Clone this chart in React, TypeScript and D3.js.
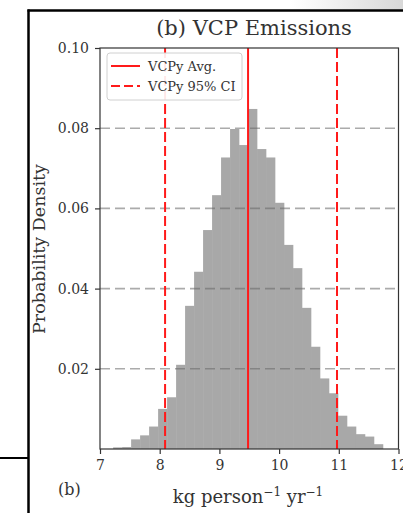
import React, { useRef, useEffect } from "react";
import * as d3 from "d3";

// Histogram of per-capita VCP emissions (probability per bin), 30 bins.
const binRange = [7.22, 11.74];
const binValues = [
  0.0004, 0.0005, 0.0024, 0.0034, 0.0056, 0.01, 0.0129, 0.021, 0.0357, 0.0442,
  0.0546, 0.0633, 0.0727, 0.0798, 0.0758, 0.0848, 0.0748, 0.0727, 0.0614, 0.0509,
  0.0451, 0.0352, 0.0255, 0.0176, 0.0139, 0.0083, 0.0056, 0.0037, 0.0031, 0.0012,
];
const avgValue = 9.48;
const ciValues = [8.09, 10.97];
const xTicks = [7, 8, 9, 10, 11, 12];
const yTicks = [0.02, 0.04, 0.06, 0.08, 0.1];
const legendLabels = ["VCPy Avg.", "VCPy 95% CI"];

const FONT = "DejaVu Serif";

const App = () => {
  const svgRef = useRef(null);

  useEffect(() => {
    const width = 403;
    const height = 513;
    const svg = d3.select(svgRef.current);
    svg.selectAll("*").remove();
    svg.attr("width", width).attr("height", height);

    svg.append("rect").attr("width", width).attr("height", height).attr("fill", "#fff");

    // faint grey shading at top-right of the screenshot
    const defs = svg.append("defs");
    const grad = defs
      .append("linearGradient")
      .attr("id", "topfade")
      .attr("x1", "0")
      .attr("x2", "1");
    grad.append("stop").attr("offset", "0").attr("stop-color", "#fff");
    grad.append("stop").attr("offset", "1").attr("stop-color", "#d8d8d8");
    svg
      .append("rect")
      .attr("x", 290)
      .attr("y", 0)
      .attr("width", 113)
      .attr("height", 10)
      .attr("fill", "url(#topfade)");

    // outer frame lines from the cropped figure
    svg.append("line").attr("x1", 28.5).attr("x2", 28.5).attr("y1", 9.5).attr("y2", height)
      .attr("stroke", "#000").attr("stroke-width", 2.5);
    svg.append("line").attr("x1", 27.5).attr("x2", width).attr("y1", 10.5).attr("y2", 10.5)
      .attr("stroke", "#000").attr("stroke-width", 2.5);
    svg.append("line").attr("x1", 0).attr("x2", 28.5).attr("y1", 458).attr("y2", 458)
      .attr("stroke", "#000").attr("stroke-width", 2);

    const left = 100;
    const right = 398.5;
    const top = 48;
    const bottom = 449;

    const x = d3.scaleLinear().domain([7, 12]).range([left, right]);
    const y = d3.scaleLinear().domain([0, 0.1]).range([bottom, top]);

    const n = binValues.length;
    const bw = (binRange[1] - binRange[0]) / n;
    const bins = binValues.map((v, i) => ({
      x0: binRange[0] + i * bw,
      x1: binRange[0] + (i + 1) * bw,
      v,
    }));

    svg
      .append("g")
      .selectAll("rect")
      .data(bins)
      .join("rect")
      .attr("x", (d) => x(d.x0))
      .attr("width", (d) => x(d.x1) - x(d.x0) + 0.3)
      .attr("y", (d) => y(d.v))
      .attr("height", (d) => y(0) - y(d.v))
      .attr("fill", "#a8a8a8");

    // horizontal dashed grid
    svg
      .append("g")
      .selectAll("line")
      .data(yTicks.filter((t) => t < 0.1))
      .join("line")
      .attr("x1", left)
      .attr("x2", right)
      .attr("y1", (d) => y(d))
      .attr("y2", (d) => y(d))
      .attr("stroke", "#666")
      .attr("stroke-opacity", 0.55)
      .attr("stroke-width", 1.6)
      .attr("stroke-dasharray", "10,5");

    // average and CI lines
    svg
      .append("line")
      .attr("x1", x(avgValue))
      .attr("x2", x(avgValue))
      .attr("y1", top)
      .attr("y2", bottom)
      .attr("stroke", "#ff1a1a")
      .attr("stroke-width", 2);
    svg
      .append("g")
      .selectAll("line")
      .data(ciValues)
      .join("line")
      .attr("x1", (d) => x(d))
      .attr("x2", (d) => x(d))
      .attr("y1", top)
      .attr("y2", bottom)
      .attr("stroke", "#ff1a1a")
      .attr("stroke-width", 2)
      .attr("stroke-dasharray", "10,4");

    // spines
    svg
      .append("rect")
      .attr("x", left)
      .attr("y", top)
      .attr("width", right - left)
      .attr("height", bottom - top)
      .attr("fill", "none")
      .attr("stroke", "#333")
      .attr("stroke-width", 1.2);

    // axes
    const xAxis = svg
      .append("g")
      .attr("transform", `translate(0,${bottom})`)
      .call(d3.axisBottom(x).tickValues(xTicks).tickSize(5).tickPadding(6).tickFormat(d3.format("d")));
    const yAxis = svg
      .append("g")
      .attr("transform", `translate(${left},0)`)
      .call(d3.axisLeft(y).tickValues(yTicks).tickSize(5).tickPadding(6).tickFormat(d3.format(".2f")));
    [xAxis, yAxis].forEach((a) => {
      a.select(".domain").remove();
      a.selectAll("line").attr("stroke", "#333").attr("stroke-width", 1.2);
      a.selectAll("text")
        .attr("font-family", FONT)
        .attr("font-size", 14)
        .attr("fill", "#333");
    });

    // title and labels
    svg
      .append("text")
      .attr("x", 254)
      .attr("y", 35)
      .attr("text-anchor", "middle")
      .attr("font-family", FONT)
      .attr("font-size", 21)
      .attr("fill", "#333")
      .text("(b) VCP Emissions");

    svg
      .append("text")
      .attr("transform", `translate(45,249) rotate(-90)`)
      .attr("text-anchor", "middle")
      .attr("font-family", FONT)
      .attr("font-size", 17.5)
      .attr("fill", "#333")
      .text("Probability Density");

    const xl = svg
      .append("text")
      .attr("x", 248)
      .attr("y", 503)
      .attr("text-anchor", "middle")
      .attr("font-family", FONT)
      .attr("font-size", 18)
      .attr("fill", "#333");
    xl.append("tspan").text("kg person");
    xl.append("tspan").attr("dy", -7).attr("font-size", 12).text("\u22121");
    xl.append("tspan").attr("dy", 7).text(" yr");
    xl.append("tspan").attr("dy", -7).attr("font-size", 12).text("\u22121");

    svg
      .append("text")
      .attr("x", 58)
      .attr("y", 495)
      .attr("font-family", FONT)
      .attr("font-size", 16)
      .attr("fill", "#333")
      .text("(b)");

    // legend
    const legend = svg.append("g").attr("transform", "translate(107,53)");
    legend
      .append("rect")
      .attr("width", 135)
      .attr("height", 47)
      .attr("rx", 3)
      .attr("fill", "#fff")
      .attr("fill-opacity", 0.9)
      .attr("stroke", "#d0d0d0")
      .attr("stroke-width", 1);
    legend
      .selectAll("line")
      .data(legendLabels)
      .join("line")
      .attr("x1", 4)
      .attr("x2", 33)
      .attr("y1", (d, i) => 13 + i * 20)
      .attr("y2", (d, i) => 13 + i * 20)
      .attr("stroke", "#ff1a1a")
      .attr("stroke-width", 2)
      .attr("stroke-dasharray", (d, i) => (i === 0 ? null : "9,4"));
    legend
      .selectAll("text")
      .data(legendLabels)
      .join("text")
      .attr("x", 41)
      .attr("y", (d, i) => 17.5 + i * 20)
      .attr("font-family", FONT)
      .attr("font-size", 13)
      .attr("fill", "#333")
      .text((d) => d);
  }, []);

  return (
    <div>
      <svg ref={svgRef} style={{ position: "absolute", left: 0, top: 0 }}></svg>
    </div>
  );
};

export default App;
